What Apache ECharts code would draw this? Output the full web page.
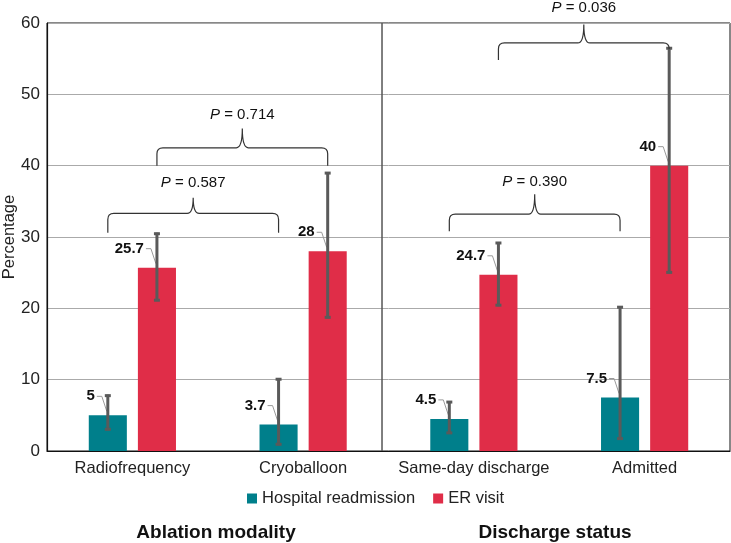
<!DOCTYPE html>
<html><head><meta charset="utf-8">
<script src="https://cdn.jsdelivr.net/npm/echarts@6/dist/echarts.min.js"></script>
<style>html,body{margin:0;padding:0;background:#fff}#c{width:731px;height:543px}</style>
</head><body><div id="c"></div>
<script>
const categories = ['Radiofrequency', 'Cryoballoon', 'Same-day discharge', 'Admitted'];
const readmission = [5, 3.7, 4.5, 7.5];
const erVisit = [25.7, 28, 24.7, 40];
const readmissionLow = [2.9, 0.8, 2.4, 1.6];
const readmissionHigh = [7.9, 10.2, 7.0, 20.3];
const erLow = [21.0, 18.6, 20.3, 24.9];
const erHigh = [30.6, 39.1, 29.3, 56.6];
const yTicks = [0, 10, 20, 30, 40, 50, 60];
const groupTitles = ['Ablation modality', 'Discharge status'];
// p-value comparisons
const pValues = ['0.587', '0.714', '0.390', '0.036'];
const pFrom = [0, 0, 2, 2];
const pTo = [1, 1, 3, 3];
const pSeries = [0, 1, 0, 1];
const pEndLeft = [30.6, 40.0, 30.8, 54.8];
const pEndRight = [30.6, 40.0, 30.8, 56.6];
const pLevel = [33.3, 42.5, 33.2, 57.2];
const pTip = [35.5, 45.2, 36.0, 59.8];
const pTextAt = [37.6, 47.1, 37.7, 62.1];

const TEAL = '#007f8b', RED = '#e02d48';
const FONT = '"Liberation Sans", Arial, sans-serif';
const BW = 0.223, GAP = 0.29;
function sideOffset(band, side) {
  const bw = BW * band;
  const o = bw / 2 + (GAP * bw) / 2;
  return side === 0 ? -o : o;
}

function errorSeries(low, high, side) {
  return {
    type: 'custom', z: 5,
    data: categories.map((c, i) => [i, low[i], high[i]]),
    encode: { x: 0, y: [1, 2] },
    renderItem(params, api) {
      const i = api.value(0);
      const lo = api.coord([i, api.value(1)]);
      const hi = api.coord([i, api.value(2)]);
      const band = api.size([1, 0])[0];
      const x = lo[0] + sideOffset(band, side);
      const st = { stroke: '#5a5a5a', lineWidth: 3 };
      return { type: 'group', children: [
        { type: 'line', shape: { x1: x, y1: hi[1], x2: x, y2: lo[1] }, style: st },
        { type: 'line', shape: { x1: x - 3, y1: hi[1] + 1, x2: x + 3, y2: hi[1] + 1 }, style: st },
        { type: 'line', shape: { x1: x - 3, y1: lo[1] - 1, x2: x + 3, y2: lo[1] - 1 }, style: st }
      ]};
    }
  };
}

function labelSeries(vals, side) {
  return {
    type: 'custom', z: 4,
    data: vals.map((v, i) => [i, v]),
    encode: { x: 0, y: 1 },
    renderItem(params, api) {
      const i = api.value(0), v = api.value(1);
      const p = api.coord([i, v]);
      const band = api.size([1, 0])[0];
      const x = p[0] + sideOffset(band, side);
      const ty = p[1] - 19;
      return { type: 'group', children: [
        { type: 'polyline', shape: { points: [[x - 11, ty], [x - 6, ty], [x - 1, p[1] - 4]] },
          style: { stroke: '#9a9a9a', lineWidth: 1, fill: null } },
        { type: 'text', x: x - 13, y: ty,
          style: { text: String(v), align: 'right', verticalAlign: 'middle',
                   font: 'bold 15px ' + FONT, fill: '#111' } }
      ]};
    }
  };
}

const braceSeries = {
  type: 'custom', z: 6, clip: false,
  data: pValues.map((p, k) => [pFrom[k], pTo[k], pSeries[k], pEndLeft[k], pEndRight[k], pLevel[k], pTip[k], pTextAt[k], k]),
  encode: { x: [0, 1], y: [3, 4, 5, 6] },
  renderItem(params, api) {
    const k = api.value(8);
    const side = api.value(2);
    const band = api.size([1, 0])[0];
    const a = api.coord([api.value(0), api.value(5)]);
    const b = api.coord([api.value(1), api.value(5)]);
    const x1 = a[0] + sideOffset(band, side);
    const x2 = b[0] + sideOffset(band, side);
    const yL = api.coord([0, api.value(3)])[1];
    const yR = api.coord([0, api.value(4)])[1];
    const yH = a[1];
    const yT = api.coord([0, api.value(6)])[1];
    const yTx = api.coord([0, api.value(7)])[1];
    const xm = (x1 + x2) / 2;
    const r = 6;
    const path = 'M' + x1 + ' ' + yL + ' L' + x1 + ' ' + (yH + r) + ' Q' + x1 + ' ' + yH + ' ' + (x1 + r) + ' ' + yH +
      ' L' + (xm - r) + ' ' + yH + ' Q' + xm + ' ' + yH + ' ' + xm + ' ' + yT +
      ' Q' + xm + ' ' + yH + ' ' + (xm + r) + ' ' + yH +
      ' L' + (x2 - r) + ' ' + yH + ' Q' + x2 + ' ' + yH + ' ' + x2 + ' ' + (yH + r) + ' L' + x2 + ' ' + yR;
    return { type: 'group', children: [
      { type: 'path', shape: { pathData: path }, style: { stroke: '#333', lineWidth: 1.2, fill: null } },
      { type: 'text', x: xm, y: yTx,
        style: { text: '{i|P} = ' + pValues[k], align: 'center', verticalAlign: 'middle',
                 font: '15px ' + FONT, fill: '#111',
                 rich: { i: { fontStyle: 'italic', fontSize: 15, fontFamily: FONT, fill: '#111' } } } }
    ]};
  }
};

const dividerSeries = {
  type: 'custom', z: 3,
  data: [[1, 0, 60]],
  encode: { x: 0, y: [1, 2] },
  renderItem(params, api) {
    const band = api.size([1, 0])[0];
    const lo = api.coord([api.value(0), api.value(1)]);
    const hi = api.coord([api.value(0), api.value(2)]);
    const x = lo[0] + 0.462 * band;
    return { type: 'line', shape: { x1: x, y1: hi[1], x2: x, y2: lo[1] }, style: { stroke: '#555', lineWidth: 1.5 } };
  }
};

const chart = echarts.init(document.getElementById('c'), null, { renderer: 'canvas' });
chart.setOption({
  animation: false,
  textStyle: { fontFamily: FONT },
  grid: { left: 47, right: 1, top: 23, bottom: 92, show: true, borderColor: '#111', borderWidth: 1,
          containLabel: false, outerBoundsMode: 'none' },
  legend: {
    left: 242, top: 485, itemWidth: 10, itemHeight: 10, itemGap: 18,
    icon: 'rect', textStyle: { fontSize: 16.5, color: '#222', fontFamily: FONT },
    data: ['Hospital readmission', 'ER visit']
  },
  xAxis: {
    type: 'category', data: categories,
    axisLine: { lineStyle: { color: '#111', width: 1.2 } },
    axisTick: { show: false },
    axisLabel: { fontSize: 16.5, color: '#222', margin: 9, interval: 0 }
  },
  yAxis: {
    type: 'value', min: yTicks[0], max: yTicks[yTicks.length - 1], interval: yTicks[1] - yTicks[0],
    name: 'Percentage', nameLocation: 'middle', nameGap: 29, nameRotate: 90, nameMoveOverlap: false,
    nameTextStyle: { fontSize: 16.5, color: '#222' },
    axisLine: { show: true, lineStyle: { color: '#111', width: 1.2 } },
    axisTick: { show: false },
    axisLabel: { fontSize: 17, color: '#222', margin: 7 },
    splitLine: { lineStyle: { color: '#aaaaaa', width: 1 } }
  },
  graphic: [
    { type: 'text', x: 216, y: 533, style: { text: groupTitles[0], font: 'bold 19px ' + FONT, fill: '#111', align: 'center', verticalAlign: 'middle' } },
    { type: 'text', x: 555, y: 533, style: { text: groupTitles[1], font: 'bold 19px ' + FONT, fill: '#111', align: 'center', verticalAlign: 'middle' } }
  ],
  series: [
    { name: 'Hospital readmission', type: 'bar', data: readmission, barWidth: (BW * 100) + '%', barGap: (GAP * 100) + '%', itemStyle: { color: TEAL } },
    { name: 'ER visit', type: 'bar', data: erVisit, barWidth: (BW * 100) + '%', barGap: (GAP * 100) + '%', itemStyle: { color: RED } },
    dividerSeries,
    labelSeries(readmission, 0),
    labelSeries(erVisit, 1),
    errorSeries(readmissionLow, readmissionHigh, 0),
    errorSeries(erLow, erHigh, 1),
    braceSeries
  ]
});
</script></body></html>
